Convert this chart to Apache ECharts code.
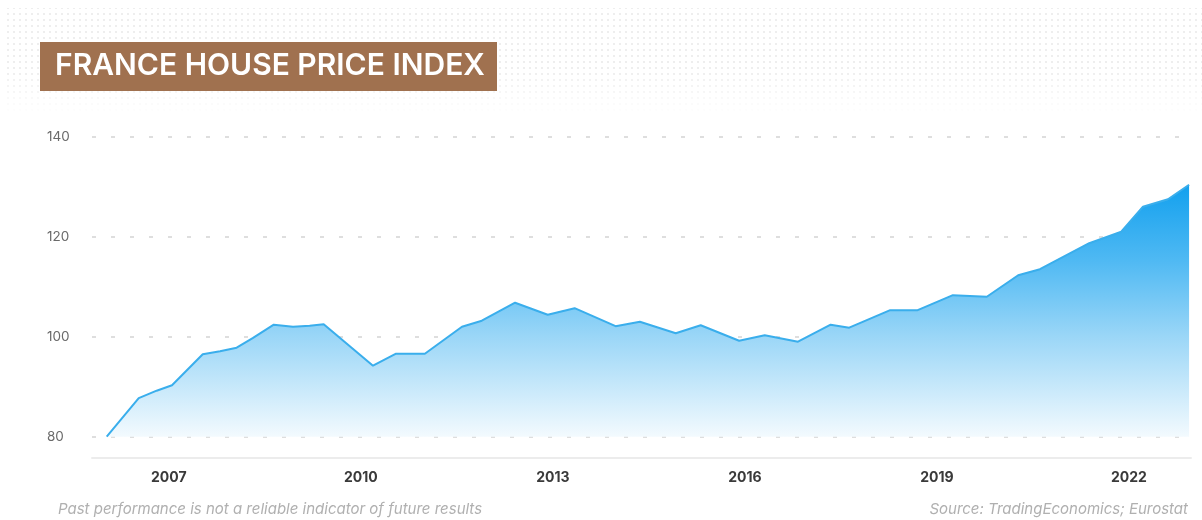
<!DOCTYPE html>
<html>
<head>
<meta charset="utf-8">
<script src="https://cdn.jsdelivr.net/npm/echarts@6/dist/echarts.min.js"></script>
<style>
  html, body { margin: 0; padding: 0; background: #fff; }
  #chart { width: 1202px; height: 520px; }
</style>
</head>
<body>
<div id="chart"></div>
<script>
// vertices of the index line (decimal year, index value)
const years = [
  2006.03, 2006.53, 2006.81, 2007.05, 2007.53, 2007.80, 2008.06, 2008.31, 2008.64, 2008.94,
  2009.20, 2009.42, 2010.19, 2010.55, 2011.00, 2011.58, 2011.89, 2012.41, 2012.92, 2013.34,
  2013.98, 2014.36, 2014.92, 2015.31, 2015.91, 2016.31, 2016.83, 2017.34, 2017.63, 2018.27,
  2018.70, 2019.25, 2019.78, 2020.27, 2020.61, 2021.38, 2021.88, 2022.22, 2022.61, 2022.94
];
const values = [
  80.0, 87.7, 89.2, 90.3, 96.5, 97.1, 97.8, 99.7, 102.4, 102.0,
  102.2, 102.5, 94.2, 96.6, 96.6, 102.0, 103.2, 106.8, 104.4, 105.7,
  102.1, 103.0, 100.7, 102.3, 99.2, 100.3, 99.0, 102.4, 101.8, 105.3,
  105.3, 108.3, 108.0, 112.3, 113.5, 118.7, 121.0, 126.0, 127.5, 130.4
];
const yearTicks = [2007, 2010, 2013, 2016, 2019, 2022];

const titleText = 'FRANCE HOUSE PRICE INDEX';
const footLeft = 'Past performance is not a reliable indicator of future results';
const footRight = 'Source: TradingEconomics; Eurostat';

const fontFamily = 'Inter, "Open Sans", sans-serif';

// small dotted tile for the header band
function dotTile() {
  const c = document.createElement('canvas');
  c.width = 6;
  c.height = 6;
  const ctx = c.getContext('2d');
  ctx.fillStyle = '#e8e8e8';
  ctx.beginPath();
  ctx.arc(2, 2, 1, 0, Math.PI * 2);
  ctx.fill();
  return c;
}

const chart = echarts.init(document.getElementById('chart'), null, { renderer: 'canvas' });

chart.setOption({
  backgroundColor: '#fff',
  animation: false,
  grid: { left: 92, right: 11, top: 136.7, bottom: 83.3 },
  xAxis: {
    type: 'value',
    min: 2005.8,
    max: 2022.97,
    offset: 21,
    axisLine: { show: true, lineStyle: { color: '#ececec', width: 2 } },
    axisTick: { show: false },
    splitLine: { show: false },
    axisLabel: {
      customValues: yearTicks,
      margin: 13,
      color: '#3a3a3a',
      fontSize: 14,
      fontWeight: 700,
      fontFamily,
      formatter: (v) => String(v),
    },
  },
  yAxis: {
    type: 'value',
    min: 80,
    max: 140,
    interval: 20,
    axisLine: { show: false },
    axisTick: { show: false },
    axisLabel: {
      align: 'left',
      margin: 45,
      color: '#6a6a6a',
      fontSize: 13.5,
      fontFamily,
    },
    splitLine: {
      show: true,
      lineStyle: { color: '#d4d4d4', width: 1.5, type: [4, 15] },
    },
  },
  series: [
    {
      type: 'line',
      data: years.map((y, i) => [y, values[i]]),
      showSymbol: false,
      symbol: 'none',
      lineStyle: { color: '#3aaeec', width: 2 },
      areaStyle: {
        opacity: 1,
        color: new echarts.graphic.LinearGradient(0, 0, 0, 1, [
          { offset: 0, color: '#12a0ee' },
          { offset: 0.3, color: '#4fb9f3' },
          { offset: 0.6, color: '#9ad6f7' },
          { offset: 1, color: '#f3fafe' },
        ]),
      },
    },
  ],
  graphic: [
    // dotted header band, fading out at the bottom
    {
      type: 'rect',
      z: -10,
      shape: { x: 4, y: 8, width: 1198, height: 104 },
      style: { fill: { image: dotTile(), repeat: 'repeat' } },
    },
    {
      type: 'rect',
      z: -9,
      shape: { x: 0, y: 70, width: 1202, height: 44 },
      style: {
        fill: new echarts.graphic.LinearGradient(0, 0, 0, 1, [
          { offset: 0, color: 'rgba(255,255,255,0)' },
          { offset: 1, color: 'rgba(255,255,255,1)' },
        ]),
      },
    },
    {
      type: 'rect',
      shape: { x: 40, y: 42, width: 457, height: 49 },
      style: { fill: '#a0714f' },
    },
    {
      type: 'text',
      left: 55,
      top: 51,
      style: {
        text: titleText,
        fill: '#ffffff',
        font: `600 30px ${fontFamily}`,
      },
    },
    {
      type: 'text',
      left: 58,
      top: 502,
      style: {
        text: footLeft,
        fill: '#b0b0b0',
        font: `italic 15px ${fontFamily}`,
      },
    },
    {
      type: 'text',
      right: 14,
      top: 502,
      style: {
        text: footRight,
        fill: '#b0b0b0',
        font: `italic 15px ${fontFamily}`,
      },
    },
  ],
});
</script>
</body>
</html>
